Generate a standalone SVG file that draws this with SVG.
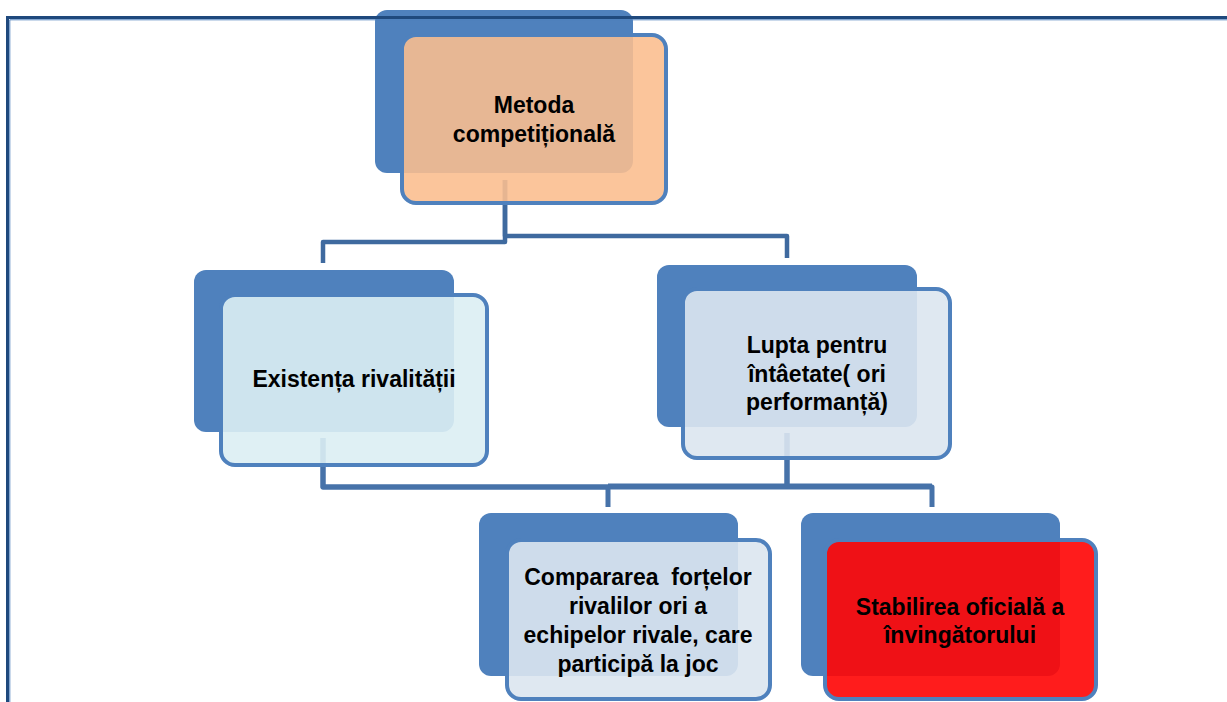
<svg xmlns="http://www.w3.org/2000/svg" width="1227" height="702" viewBox="0 0 1227 702">
<style>
.back{fill:#4f81bd;}
.front{stroke:#4f81bd;stroke-width:4;}
.conn{fill:none;stroke:#4672a9;stroke-width:5;stroke-linejoin:round;}
.conn-top{stroke:#3f6a9f;stroke-width:4.5;}
.lbl{font-family:"Liberation Sans",Arial,sans-serif;font-weight:bold;font-size:23px;fill:#000;text-anchor:middle;white-space:pre;}
</style>
<rect width="1227" height="702" fill="#ffffff"/>
<g id="connectors">
<path class="conn conn-top" d="M505,180 V242 H323 V263"/>
<path class="conn conn-top" d="M505,180 V236 H787 V258"/>
<path class="conn" d="M323,438 V487 H608 V507"/>
<path class="conn" d="M323,438 V487 H932 V507"/>
<path class="conn" d="M787,433 V486 H608"/>
<path class="conn" d="M787,433 V486 H932"/>
</g>
<g id="node-metoda">
<rect class="back" x="375" y="10" width="258" height="163" rx="12"/>
<rect class="front" x="402" y="35" width="264" height="168" rx="14" fill="#fabe8f" fill-opacity="0.89"/>
<text class="lbl" x="534" y="113">Metoda</text>
<text class="lbl" x="534" y="142">competițională</text>
</g>
<g id="node-existenta">
<rect class="back" x="194" y="270" width="260" height="162" rx="12"/>
<rect class="front" x="221" y="295" width="266" height="170" rx="14" fill="#dbeef3" fill-opacity="0.9"/>
<text class="lbl" x="354" y="387">Existența rivalității</text>
</g>
<g id="node-lupta">
<rect class="back" x="657" y="265" width="260" height="162" rx="12"/>
<rect class="front" x="683" y="289" width="267" height="169" rx="14" fill="#dce5f0" fill-opacity="0.9"/>
<text class="lbl" x="817" y="353">Lupta pentru</text>
<text class="lbl" x="817" y="382">întâetate( ori</text>
<text class="lbl" x="817" y="410">performanță)</text>
</g>
<g id="node-compararea">
<rect class="back" x="479" y="513" width="259" height="163" rx="12"/>
<rect class="front" x="507" y="540" width="263" height="159" rx="14" fill="#dce5f0" fill-opacity="0.9"/>
<text class="lbl" x="638" y="585">Compararea  forțelor</text>
<text class="lbl" x="638" y="614">rivalilor ori a</text>
<text class="lbl" x="638" y="643">echipelor rivale, care</text>
<text class="lbl" x="638" y="672">participă la joc</text>
</g>
<g id="node-stabilirea">
<rect class="back" x="801" y="513" width="259" height="163" rx="12"/>
<rect class="front" x="825" y="540" width="271" height="159" rx="14" fill="#ff0505" fill-opacity="0.91"/>
<text class="lbl" x="960" y="615">Stabilirea oficială a</text>
<text class="lbl" x="960" y="643">învingătorului</text>
</g>
<g id="frame">
<path d="M7.5,702 V17.5 H1227" fill="none" stroke="#1f497d" stroke-width="3"/>
<path d="M9.8,702 V19.8 H1227" fill="none" stroke="#4f81bd" stroke-width="1"/>
</g>
</svg>
